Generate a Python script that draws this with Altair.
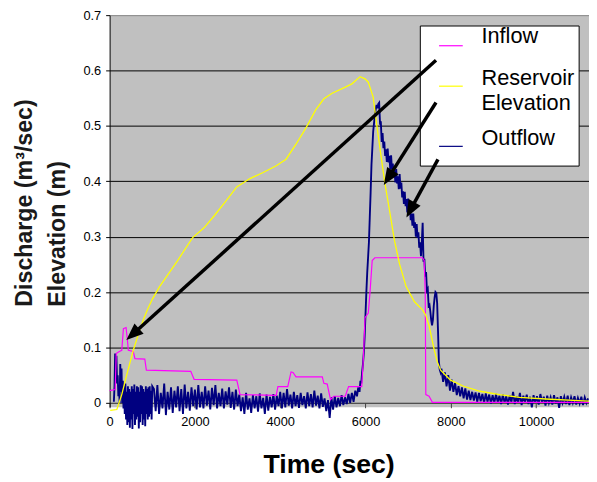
import math
import altair as alt
import pandas as pd

FONT = "Liberation Sans, Arial, sans-serif"

# ---------------- data ----------------
INFLOW_T = [0, 131, 155, 208, 285, 324, 386, 416, 439, 555, 594, 825, 862, 1903, 1981,
            2982, 3059, 3907, 3946, 4177, 4254, 4300, 4370, 4987, 5024, 5102, 5179, 5256,
            5526, 5603, 5911, 5950, 5988, 6065, 6104, 6157, 6219, 7336, 7375, 7400, 7414,
            7491, 7568, 11240]
INFLOW_V = [0.022, 0.024, 0.089, 0.092, 0.095, 0.134, 0.136, 0.115, 0.095, 0.093, 0.080,
            0.079, 0.059, 0.057, 0.0425, 0.041, 0.015, 0.0136, 0.0295, 0.0295, 0.056, 0.055,
            0.047, 0.047, 0.0354, 0.034, 0.006, 0.012, 0.012, 0.0295, 0.0295, 0.080, 0.154,
            0.162, 0.198, 0.257, 0.262, 0.262, 0.257, 0.2, 0.015, 0.012, 0.001, 0.001]

ELEV_T = [15, 170, 285, 400, 555, 700, 800, 902, 1000, 1172, 1595, 1942, 2213, 2444, 2712,
          2982, 3290, 3600, 3907, 4138, 4370, 4601, 4832, 5024, 5218, 5526, 5681, 5872,
          5988, 6065, 6104, 6180, 6258, 6374, 6450, 6566, 6682, 6797, 6952, 7144, 7336,
          7414, 7491, 7607, 7683, 7761, 7838, 7993, 8300, 8686, 9148, 9611, 10227, 10998,
          11237]
ELEV_V = [-0.0137, -0.012, 0.015, 0.05, 0.095, 0.13, 0.152, 0.171, 0.187, 0.21, 0.257,
          0.298, 0.316, 0.337, 0.363, 0.39, 0.405, 0.416, 0.428, 0.44, 0.467, 0.496, 0.529,
          0.549, 0.559, 0.57, 0.576, 0.589, 0.585, 0.579, 0.57, 0.552, 0.505, 0.44, 0.399,
          0.346, 0.292, 0.251, 0.21, 0.183, 0.168, 0.158, 0.139, 0.097, 0.074, 0.059, 0.053,
          0.041, 0.030, 0.021, 0.015, 0.010, 0.007, 0.004, 0.003]

# Outflow (noisy gauge record), sampled along the trace
OUT1_T = list(range(100, 1001, 15))
OUT1_V = [0.002, 0.03, 0.089, 0.06, 0.085, 0.035, 0.05, 0.012, 0.03, 0.0,
          0.07, 0.02, 0.062, 0.0, 0.04, -0.01, 0.03, -0.02, 0.035, -0.03,
          0.02, -0.04, 0.03, -0.035, 0.025, -0.045, 0.02, -0.03, 0.03, -0.047,
          0.025, -0.02, 0.033, -0.04, 0.02, -0.03, 0.03, -0.025, 0.028, -0.046,
          0.02, -0.035, 0.032, -0.02, 0.03, -0.04, 0.025, -0.03, 0.02, -0.042,
          0.03, -0.02, 0.025, -0.03, 0.028, -0.025, 0.03, -0.02, 0.022, -0.03,
          0.03]
OUT2_T = list(range(1040, 5801, 40))
OUT2_V = [0.025, -0.015, 0.032, -0.02, 0.018, -0.01, 0.035, -0.022, 0.02, -0.012,
          0.028, -0.018, 0.022, -0.008, 0.03, -0.015, 0.025, -0.02, 0.033, -0.01,
          0.02, -0.014, 0.028, -0.006, 0.024, -0.012, 0.032, -0.008, 0.02, -0.01,
          0.03, -0.005, 0.022, -0.012, 0.027, -0.004, 0.032, -0.01, 0.018, -0.006,
          0.026, -0.01, 0.021, -0.003, 0.028, -0.009, 0.02, -0.012, 0.024, -0.006,
          0.015, -0.015, 0.01, -0.02, 0.018, -0.012, 0.008, -0.018, 0.014, -0.01,
          0.012, -0.016, 0.017, -0.01, 0.009, -0.02, 0.015, -0.014, 0.011, -0.008,
          0.016, -0.012, 0.013, -0.006, 0.02, -0.01, 0.018, -0.008, 0.025, -0.005,
          0.015, -0.01, 0.02, -0.006, 0.014, -0.009, 0.018, -0.004, 0.012, -0.01,
          0.019, -0.006, 0.016, -0.008, 0.022, -0.005, 0.013, -0.01, 0.017, -0.007,
          0.008, -0.015, 0.005, -0.027, 0.01, -0.012, 0.012, -0.008, 0.009, -0.006,
          0.014, -0.004, 0.01, -0.002, 0.016, 0.0, 0.018, 0.002, 0.022, 0.012]
OUT3_T = [5830, 5860, 5880, 5900, 5920, 5940, 5960, 5980, 6000, 6020, 6040, 6060,
          6080, 6100, 6120, 6140, 6160, 6180, 6200, 6220, 6240, 6260, 6280, 6300]
OUT3_V = [0.028, 0.02, 0.04, 0.035, 0.055, 0.07, 0.09, 0.12, 0.16, 0.2, 0.235, 0.262,
          0.29, 0.335, 0.38, 0.43, 0.46, 0.49, 0.505, 0.52, 0.53, 0.538, 0.532, 0.54]
OUT4_T = list(range(6320, 7501, 20))
OUT4_V = [0.542, 0.505, 0.506, 0.471, 0.487, 0.46, 0.472, 0.446, 0.458, 0.435,
          0.459, 0.434, 0.446, 0.422, 0.447, 0.421, 0.432, 0.407, 0.42, 0.398,
          0.422, 0.396, 0.409, 0.386, 0.413, 0.387, 0.398, 0.371, 0.382, 0.359,
          0.381, 0.355, 0.368, 0.344, 0.369, 0.344, 0.356, 0.33, 0.342, 0.32,
          0.342, 0.316, 0.326, 0.30, 0.323, 0.298, 0.308, 0.28, 0.29, 0.265,
          0.29, 0.325, 0.255, 0.26, 0.228, 0.236, 0.203, 0.206, 0.175, 0.177]
OUT5_T = [7520, 7540, 7560, 7580, 7600, 7620, 7640, 7660, 7680, 7700, 7720, 7740, 7760]
OUT5_V = [0.165, 0.15, 0.14, 0.15, 0.175, 0.19, 0.2, 0.198, 0.18, 0.13, 0.075, 0.06, 0.055]
OUT6_T = list(range(7780, 11221, 40))
OUT6_V = [0.062, 0.038, 0.055, 0.03, 0.05, 0.022, 0.042, 0.02, 0.036, 0.014,
          0.03, 0.012, 0.028, 0.008, 0.026, 0.006, 0.022, 0.005, 0.02, 0.004,
          0.019, 0.002, 0.018, 0.003, 0.016, 0.0, 0.017, 0.002, 0.015, -0.001,
          0.014, 0.0, 0.016, 0.001, 0.013, -0.002, 0.015, 0.0, 0.012, -0.003,
          0.014, 0.001, 0.02, -0.002, 0.012, 0.0, 0.018, -0.004, 0.013, 0.001,
          0.015, -0.002, 0.011, -0.008, 0.014, 0.0, 0.012, -0.003, 0.016, 0.001,
          0.011, -0.005, 0.013, 0.0, 0.01, -0.003, 0.014, -0.001, 0.01, -0.009,
          0.012, 0.0, 0.011, -0.002, 0.013, -0.004, 0.01, 0.0, 0.012, -0.003,
          0.009, -0.001, 0.011, -0.004, 0.01, 0.0, 0.008]

OUT_T = OUT1_T + OUT2_T + OUT3_T + OUT4_T + OUT5_T + OUT6_T
OUT_V = OUT1_V + OUT2_V + OUT3_V + OUT4_V + OUT5_V + OUT6_V

SERIES_NAMES = ["Inflow", "Reservoir", "Outflow"]
SERIES_COLORS = ["#FF00FF", "#FFFF00", "#000080"]

X_TICKS = [0, 2000, 4000, 6000, 8000, 10000]
Y_TICKS = [0, 0.1, 0.2, 0.3, 0.4, 0.5, 0.6, 0.7]

# annotation arrows (from legend toward the curves), in data units
ARROW_FROM_T = [7653, 7653, 7699]
ARROW_FROM_V = [0.6185, 0.5423, 0.4395]
ARROW_TO_T = [393, 6427, 6959]
ARROW_TO_V = [0.1134, 0.3934, 0.3349]

# ---------------- layout ----------------
X_MAX = 11240
Y_MIN, Y_MAX = -0.007, 0.7
W, H = 486, 397


def to_px(t, v):
    return t / X_MAX * W, (Y_MAX - v) / (Y_MAX - Y_MIN) * H


def to_data(x, y):
    return x / W * X_MAX, Y_MAX - y / H * (Y_MAX - Y_MIN)


shafts, heads = [], []
for t0, v0, t1, v1 in zip(ARROW_FROM_T, ARROW_FROM_V, ARROW_TO_T, ARROW_TO_V):
    x0, y0 = to_px(t0, v0)
    x1, y1 = to_px(t1, v1)
    dx, dy = x1 - x0, y1 - y0
    L = math.hypot(dx, dy)
    ux, uy = dx / L, dy / L
    ex, ey = x1 - ux * 11, y1 - uy * 11
    te, ve = to_data(ex, ey)
    shafts.append({"t": t0, "v": v0, "t1": te, "v1": ve})
    ang = math.degrees(math.atan2(dx, -dy)) % 360
    heads.append({"t": t1, "v": v1, "ang": ang})

xs = alt.Scale(domain=[0, X_MAX], nice=False, zero=False)
ys = alt.Scale(domain=[Y_MIN, Y_MAX], nice=False, zero=False)

x_axis = alt.Axis(
    values=X_TICKS, format="d", title="Time (sec)", titleFont=FONT, titleFontSize=27,
    titleFontWeight="bold", titleColor="black", titleX=222, titleY=63,
    titleAlign="center", titleBaseline="middle",
    labelFont=FONT, labelFontSize=13, labelColor="black", labelPadding=8,
    labelFlush=False, labelOverlap=False, tickSize=5, tickColor="#404040",
    domainColor="#404040", offset=-4, grid=False)

y_axis = alt.Axis(
    values=Y_TICKS, format=".1~f", title=["Discharge (m³/sec)", "Elevation (m)"],
    titleFont=FONT, titleFontSize=23.5, titleFontWeight="bold", titleColor="#1a1a1a",
    titleAngle=270, titleAlign="left", titleBaseline="middle", titleX=-86,
    titleY=295, titleLineHeight=33,
    labelFont=FONT, labelFontSize=13, labelColor="black", labelPadding=5,
    labelFlush=False, tickSize=4, tickColor="black", domainColor="black",
    grid=True, gridWidth=1,
    gridColor={"condition": {"test": "datum.value > 0.65 || datum.value < 0.05",
                             "value": "#808080"}, "value": "black"})

X = alt.X("t:Q", scale=xs, axis=x_axis)
Y = alt.Y("v:Q", scale=ys, axis=y_axis)

out_df = pd.DataFrame({"t": OUT_T, "v": OUT_V})
in_df = pd.DataFrame({"t": INFLOW_T, "v": INFLOW_V})
el_df = pd.DataFrame({"t": ELEV_T, "v": ELEV_V})

outflow = alt.Chart(out_df).mark_line(color=SERIES_COLORS[2], strokeWidth=1.9).encode(x=X, y=Y)
inflow = alt.Chart(in_df).mark_line(color=SERIES_COLORS[0], strokeWidth=1.2).encode(x=X, y=Y)
elev = alt.Chart(el_df).mark_line(color=SERIES_COLORS[1], strokeWidth=1.3).encode(x=X, y=Y)

one = pd.DataFrame({"k": [0]})
legend_box = alt.Chart(one).mark_rect(fill="white", stroke="black", strokeWidth=1).encode(
    x=alt.value(315), x2=alt.value(476), y=alt.value(11), y2=alt.value(153))

legend_layers = [legend_box]
swatch_y = [31, 72, 133]
for col, yy in zip([SERIES_COLORS[0], SERIES_COLORS[1], SERIES_COLORS[2]], swatch_y):
    legend_layers.append(alt.Chart(one).mark_rule(color=col, strokeWidth=1.2).encode(
        x=alt.value(334), x2=alt.value(358), y=alt.value(yy)))
LEGEND_TEXT = ["Inflow", "Reservoir", "Elevation", "Outflow"]
text_y = [21, 63.6, 89.6, 124.6]
for txt, yy in zip(LEGEND_TEXT, text_y):
    legend_layers.append(alt.Chart(one).mark_text(
        text=txt, align="left", baseline="middle", font=FONT, fontSize=22,
        color="black").encode(x=alt.value(377), y=alt.value(yy)))

shaft_layer = alt.Chart(pd.DataFrame(shafts)).mark_rule(
    color="black", strokeWidth=3.5, strokeCap="butt").encode(
    x=X, y=Y, x2="t1:Q", y2="v1:Q")
head_layer = alt.Chart(pd.DataFrame(heads)).mark_point(
    shape="M0,0L-0.8,2L0.8,2Z", filled=True, color="black", opacity=1, size=300,
    strokeWidth=0).encode(x=X, y=Y, angle=alt.Angle("ang:Q", scale=None))

chart = alt.layer(outflow, inflow, elev, *legend_layers, shaft_layer, head_layer).properties(
    width=W, height=H,
    autosize=alt.AutoSizeParams(type="none"),
    padding={"left": 103, "top": 4, "right": 0, "bottom": 72},
).configure_view(fill="#C0C0C0", stroke="transparent")

chart.save("out.html", embed_options={"renderer": "svg", "actions": False})
